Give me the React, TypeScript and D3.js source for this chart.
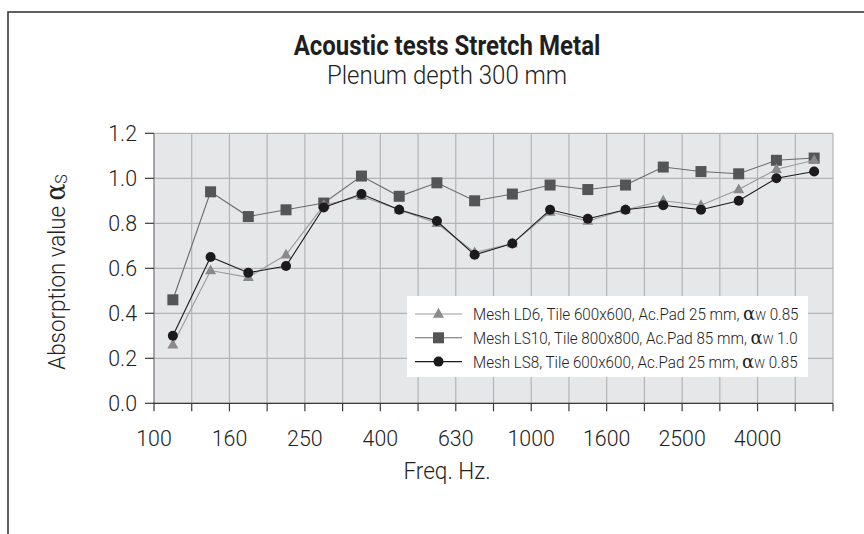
import React from "react";
import * as d3 from "d3";

const frequencies = ["100","125","160","200","250","315","400","500","630","800","1000","1250","1600","2000","2500","3150","4000","5000"];
const tickLabels = ["100","160","250","400","630","1000","1600","2500","4000"];
const yTicks = [0, 0.2, 0.4, 0.6, 0.8, 1.0, 1.2];

const meshLD6 = [0.26,0.59,0.56,0.66,0.88,0.92,0.86,0.80,0.67,0.71,0.85,0.81,0.86,0.90,0.88,0.95,1.04,1.08];
const meshLS10 = [0.46,0.94,0.83,0.86,0.89,1.01,0.92,0.98,0.90,0.93,0.97,0.95,0.97,1.05,1.03,1.02,1.08,1.09];
const meshLS8 = [0.30,0.65,0.58,0.61,0.87,0.93,0.86,0.81,0.66,0.71,0.86,0.82,0.86,0.88,0.86,0.90,1.00,1.03];

const legendLabels = [
  { text: "Mesh LD6, Tile 600x600, Ac.Pad 25 mm, ", aw: "0.85" },
  { text: "Mesh LS10, Tile 800x800, Ac.Pad 85 mm, ", aw: "1.0" },
  { text: "Mesh LS8, Tile 600x600, Ac.Pad 25 mm, ", aw: "0.85" },
];

const FONT = "Roboto, 'Liberation Sans', Arial, sans-serif";
const GREEK = "'DejaVu Serif', 'Liberation Serif', serif";

const W = 864, H = 534;
const left = 154, right = 833, top = 133.3, bottom = 403.3;

function ST({ x, y, sx = 0.9, size, anchor = "start", weight = 300, rotate = 0, fill = "#222222", children }: any) {
  const t = `translate(${x},${y})${rotate ? ` rotate(${rotate})` : ""} scale(${sx},1)`;
  return (
    <text transform={t} textAnchor={anchor} fontSize={size} fontWeight={weight} fill={fill}>
      {children}
    </text>
  );
}

function Marker({ kind, x, y }: { kind: string; x: number; y: number }) {
  if (kind === "tri") {
    const s = 11;
    const h = s * 0.9;
    return <path d={`M${x},${y - h * 0.62} L${x + s / 2},${y + h * 0.38} L${x - s / 2},${y + h * 0.38} Z`} fill="#8a8a8a" />;
  }
  if (kind === "sq") {
    return <rect x={x - 5.5} y={y - 5.5} width={11} height={11} fill="#555556" />;
  }
  return <circle cx={x} cy={y} r={5} fill="#1c1a1b" />;
}

export default function App() {
  const x = d3.scaleBand<string>().domain(frequencies).range([left, right]).padding(0);
  const y = d3.scaleLinear().domain([0, 1.2]).range([bottom, top]);
  const cx = (f: string) => (x(f) as number) + x.bandwidth() / 2;

  const series = [
    { name: "LD6", values: meshLD6, kind: "tri", stroke: "#9a9a9a" },
    { name: "LS10", values: meshLS10, kind: "sq", stroke: "#6a6a6a" },
    { name: "LS8", values: meshLS8, kind: "circ", stroke: "#1c1a1b" },
  ];

  const line = d3.line<number>().x((_, i) => cx(frequencies[i])).y((d) => y(d));
  const edges = [...frequencies.map((f) => x(f) as number), right];

  const drawOrder = [series[1], series[0], series[2]];

  return (
    <svg width={W} height={H} style={{ position: "absolute", left: 0, top: 0 }} fontFamily={FONT}>
      <rect x={0} y={0} width={W} height={H} fill="#ffffff" />
      <rect x={8} y={12} width={W + 50} height={H + 50} fill="none" stroke="#3a3a3a" strokeWidth={1.6} />

      <ST x={447} y={55} size={27} sx={0.89} anchor="middle" weight={700} fill="#1f1f1f">Acoustic tests Stretch Metal</ST>
      <ST x={447} y={84} size={25} sx={0.96} anchor="middle">Plenum depth 300 mm</ST>

      <rect x={left} y={top} width={right - left} height={bottom - top} fill="#e6e7e9" />
      {edges.map((e, i) => (
        <line key={"v" + i} x1={e} x2={e} y1={top} y2={bottom} stroke="#b4b4b6" strokeWidth={1.2} />
      ))}
      {yTicks.map((t) => (
        <line key={"h" + t} x1={left} x2={right} y1={y(t)} y2={y(t)} stroke="#b4b4b6" strokeWidth={1.2} />
      ))}

      <line x1={left} x2={left} y1={top} y2={bottom} stroke="#8a8a8c" strokeWidth={1.2} />
      <line x1={left - 1} x2={right} y1={bottom} y2={bottom} stroke="#3a3a3a" strokeWidth={1.3} />
      {edges.map((e, i) => (
        <line key={"xt" + i} x1={e} x2={e} y1={bottom} y2={bottom + 8} stroke="#3a3a3a" strokeWidth={1.2} />
      ))}
      {yTicks.map((t) => (
        <g key={"yt" + t}>
          <line x1={left - 9} x2={left} y1={y(t)} y2={y(t)} stroke="#3a3a3a" strokeWidth={1.2} />
          <ST x={137} y={y(t) + 8} size={22} sx={0.97} anchor="end">{t.toFixed(1)}</ST>
        </g>
      ))}
      {tickLabels.map((l) => (
        <ST key={"xl" + l} x={x(l) as number} y={446} size={23} sx={0.93} anchor="middle">{l}</ST>
      ))}

      <ST x={447} y={479} size={23} sx={0.98} anchor="middle">Freq. Hz.</ST>
      <ST x={65} y={272} size={24} sx={0.93} rotate={-90} anchor="middle">
        Absorption value <tspan fontFamily={GREEK} fontSize={27} fontWeight="normal">α</tspan><tspan fontSize={17} dy={2}>S</tspan>
      </ST>

      {drawOrder.map((s) => (
        <g key={s.name}>
          <path d={line(s.values) || ""} fill="none" stroke={s.stroke} strokeWidth={1.1} />
          {s.values.map((v, i) => (
            <Marker key={i} kind={s.kind} x={cx(frequencies[i])} y={y(v)} />
          ))}
        </g>
      ))}

      <rect x={407} y={296} width={401} height={81} fill="#ffffff" />
      {legendLabels.map((l, i) => {
        const ly = 314 + i * 23.8;
        const s = series[i];
        return (
          <g key={"lg" + i}>
            <line x1={415} x2={462} y1={ly} y2={ly} stroke={s.stroke} strokeWidth={1.1} />
            <Marker kind={s.kind} x={438.5} y={ly} />
            <ST x={473} y={ly + 6} size={16} sx={0.95}>
              {l.text}
              <tspan fontFamily={GREEK} fontSize={19} fontWeight="normal">α</tspan>
              <tspan fontSize={12.5}>W</tspan>
              <tspan> {l.aw}</tspan>
            </ST>
          </g>
        );
      })}
    </svg>
  );
}
